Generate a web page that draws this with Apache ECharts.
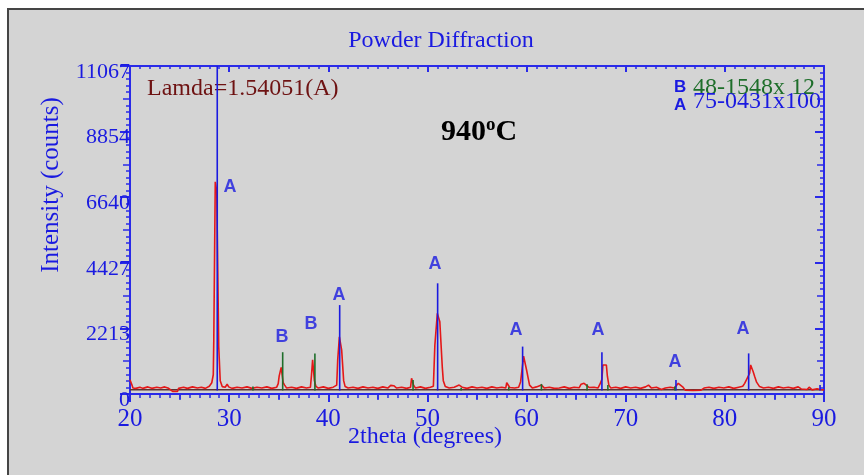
<!DOCTYPE html>
<html>
<head>
<meta charset="utf-8">
<script src="https://cdn.jsdelivr.net/npm/echarts@6/dist/echarts.min.js"></script>
<style>html,body{margin:0;padding:0;background:#fff}#c{width:864px;height:475px}</style>
</head>
<body>
<div id="c"></div>
<script>
// ---- data ----
const xTicks = [20, 30, 40, 50, 60, 70, 80, 90];
const yTickLabels = ['0', '2213', '4427', '6640', '8854', '11067'];
const yMax = 11067;

// measured pattern (2theta, counts)
const measuredX = [20.0,20.1,20.2,20.3,20.6,21.0,21.3,21.8,22.2,22.7,23.1,23.5,23.9,24.3,24.8,24.9,25.4,25.8,26.3,26.8,27.2,27.6,28.0,28.25,28.4,28.45,28.55,28.6,28.72,28.75,28.9,28.95,29.05,29.1,29.3,29.6,29.8,29.95,
30.3,30.8,31.3,31.8,32.3,32.8,33.3,33.8,34.3,34.8,34.95,35.05,35.2,35.25,35.4,35.45,35.6,35.8,
36.3,36.8,37.3,37.8,38.2,38.3,38.42,38.55,38.6,38.75,39.0,39.5,40.0,40.5,40.85,40.95,41.05,41.12,41.3,41.35,41.48,41.55,41.7,42.0,
42.5,43.0,43.5,44.0,44.5,45.0,45.5,46.0,46.3,46.6,46.9,47.4,47.9,48.3,48.4,48.55,48.6,48.8,
49.3,49.8,50.3,50.6,50.75,50.95,51.0,51.2,51.25,51.4,51.5,51.6,51.8,52.2,
52.7,53.2,53.5,54.0,54.5,55.0,55.5,56.0,56.5,57.0,57.5,57.9,58.0,58.2,58.3,58.8,59.2,59.4,59.6,59.7,59.9,60.0,60.15,60.3,60.6,
61.0,61.5,61.8,62.3,62.8,63.3,63.8,64.3,64.8,65.3,65.5,65.8,66.0,66.3,66.8,67.2,67.4,67.6,67.7,68.05,68.15,68.3,68.5,
69.0,69.5,70.0,70.5,71.0,71.5,72.0,72.3,72.6,73.1,73.6,74.0,74.5,74.9,75.1,75.3,75.5,75.8,76.0,76.8,77.6,77.9,78.4,78.9,79.4,79.9,80.4,80.9,81.4,81.8,82.0,82.2,82.5,82.6,82.75,82.85,83.0,83.2,83.5,83.9,
84.4,84.9,85.4,85.9,86.4,86.9,87.4,87.7,88.3,88.5,88.8,89.3,89.6,90.0];
const measuredY = [480,420,300,200,190,230,190,240,190,230,200,240,190,90,90,190,230,190,240,200,230,190,260,380,650,1790,1790,7160,7160,6830,6830,1600,1600,450,250,230,330,240,
190,230,200,240,190,230,200,240,190,230,350,610,610,900,900,380,300,200,
230,190,240,200,230,610,1150,1150,450,260,200,240,190,230,300,1150,1150,1930,1930,1480,1480,450,250,200,
230,190,240,200,230,190,240,200,290,280,200,230,190,230,530,530,300,200,
240,190,230,260,1650,1650,2720,2720,2440,2440,900,450,250,200,
230,300,230,190,240,200,230,190,240,200,230,200,380,380,220,200,230,415,415,1280,1280,810,810,300,200,
240,300,200,230,190,200,240,190,230,210,330,360,300,220,230,200,330,500,980,980,600,300,200,
230,190,240,200,230,190,240,300,200,230,150,200,230,200,280,360,330,220,130,120,130,200,230,190,230,200,240,190,230,260,360,420,700,980,980,760,600,400,250,200,
230,190,240,200,230,190,240,170,150,230,140,180,150,140];

// background line
const backgroundX = [20, 90];
const backgroundY = [140, 140];

// reference sticks A: 75-0431
const refAX = [28.8, 41.15, 51.03, 59.6, 67.6, 75.07, 82.4, 89.6];
const refAY = [11067, 3000, 3735, 1600, 1410, 470, 1370, 300];
// reference sticks B: 48-1548
const refBX = [32.4, 35.4, 38.65, 48.55, 53.4, 58.2, 61.5, 66.1, 68.2, 74.95];
const refBY = [250, 1410, 1370, 470, 210, 230, 340, 330, 300, 250];
const stickBase = 120;

// peak labels
const peakLabelText = ['A', 'B', 'B', 'A', 'A', 'A', 'A', 'A', 'A'];
const peakLabelX = [30.09, 35.33, 38.26, 41.08, 50.76, 58.94, 67.21, 74.97, 81.83];
const peakLabelY = [6984, 1923, 2362, 3340, 4386, 2159, 2159, 1080, 2193];

// ---- chart ----
const BLUE = '#1a1ae0';
const AXIS = '#2a2ae8';
const RED = '#e41818';
const GREEN = '#1e6e2a';
const SERIF = '"Liberation Serif", "Times New Roman", serif';

const measured = measuredX.map((x, i) => [x, measuredY[i]]);
const background = backgroundX.map((x, i) => [x, backgroundY[i]]);
const sticksA = refAX.map((x, i) => [x, refAY[i]]);
const sticksB = refBX.map((x, i) => [x, refBY[i]]);
const peakLabels = peakLabelX.map((x, i) => ({ value: [x, peakLabelY[i]], name: peakLabelText[i] }));

function stickSeries(name, data, color) {
  return {
    name, type: 'custom', data, z: 3, silent: true,
    renderItem: function (params, api) {
      const p0 = api.coord([api.value(0), stickBase]);
      const p1 = api.coord([api.value(0), api.value(1)]);
      return { type: 'line', shape: { x1: p0[0], y1: p0[1], x2: p1[0], y2: p1[1] },
        style: { stroke: color, lineWidth: 1.6 } };
    },
    encode: { x: 0, y: 1 }
  };
}

const xMin = xTicks[0], xMax = xTicks[xTicks.length - 1];
const yInterval = yMax / (yTickLabels.length - 1);

function xAx(extra) {
  return Object.assign({
    type: 'value', min: xMin, max: xMax, interval: 10,
    axisLine: { show: true, onZero: false, lineStyle: { color: AXIS, width: 2 } },
    splitLine: { show: false },
    axisLabel: { show: false }
  }, extra);
}
function yAx(extra) {
  return Object.assign({
    type: 'value', min: 0, max: yMax, interval: yInterval,
    axisLine: { show: true, onZero: false, lineStyle: { color: AXIS, width: 2 } },
    splitLine: { show: false },
    axisLabel: { show: false }
  }, extra);
}

const chart = echarts.init(document.getElementById('c'), null, { renderer: 'canvas' });
chart.setOption({
  backgroundColor: '#ffffff',
  animation: false,
  grid: { left: 130, right: 40, top: 66, bottom: 81, containLabel: false },
  graphic: [
    { type: 'rect', z: -10, shape: { x: 8, y: 9, width: 900, height: 500 },
      style: { fill: '#d4d4d4', stroke: '#454545', lineWidth: 2 } },
    { type: 'text', x: 441, y: 41, style: { text: 'Powder Diffraction', fill: BLUE, font: '24px ' + SERIF, align: 'center', verticalAlign: 'middle' } },
    { type: 'text', x: 425, y: 437, style: { text: '2theta (degrees)', fill: BLUE, font: '24px ' + SERIF, align: 'center', verticalAlign: 'middle' } },
    { type: 'text', x: 51, y: 185, rotation: Math.PI / 2, style: { text: 'Intensity (counts)', fill: BLUE, font: '25px ' + SERIF, align: 'center', verticalAlign: 'middle' } },
    { type: 'text', x: 147, y: 89, style: { text: 'Lamda=1.54051(A)', fill: '#6e1212', font: '24px ' + SERIF, verticalAlign: 'middle' } },
    { type: 'text', x: 441, y: 132, style: {
        text: '{n|940}{s|o}{n|C}', verticalAlign: 'middle',
        rich: {
          n: { fontSize: 30, fontWeight: 'bold', fontFamily: SERIF, fill: '#000', color: '#000', lineHeight: 32 },
          s: { fontSize: 19, fontWeight: 'bold', fontFamily: SERIF, fill: '#000', color: '#000', verticalAlign: 'top', lineHeight: 14 }
        } } },
    { type: 'text', x: 674, y: 87, style: { text: 'B', fill: BLUE, font: 'bold 17px "Liberation Sans", Arial, sans-serif', verticalAlign: 'middle' } },
    { type: 'text', x: 693, y: 88, style: { text: '48-1548x 12', fill: GREEN, font: '24px ' + SERIF, verticalAlign: 'middle' } },
    { type: 'text', x: 674, y: 105, style: { text: 'A', fill: BLUE, font: 'bold 17px "Liberation Sans", Arial, sans-serif', verticalAlign: 'middle' } },
    { type: 'text', x: 693, y: 102, style: { text: '75-0431x100', fill: BLUE, font: '24px ' + SERIF, verticalAlign: 'middle' } }
  ],
  xAxis: [
    xAx({ position: 'bottom',
      axisTick: { show: true, inside: false, length: 8, lineStyle: { color: AXIS, width: 2 } },
      minorTick: { show: true, splitNumber: 10, length: 4, lineStyle: { color: AXIS, width: 1.5 } },
      axisLabel: { show: true, color: BLUE, fontFamily: SERIF, fontSize: 25, margin: 13,
        formatter: v => String(xTicks[Math.round((v - xMin) / 10)]) } }),
    xAx({ position: 'bottom', interval: 5, axisLine: { show: false },
      axisTick: { show: true, inside: false, length: 6, lineStyle: { color: AXIS, width: 1.5 } } }),
    xAx({ position: 'top',
      axisTick: { show: true, inside: true, length: 6, lineStyle: { color: AXIS, width: 2 } },
      minorTick: { show: true, splitNumber: 10, length: 3, lineStyle: { color: AXIS, width: 1.5 } } }),
    xAx({ position: 'top', interval: 5, axisLine: { show: false },
      axisTick: { show: true, inside: true, length: 5, lineStyle: { color: AXIS, width: 1.5 } } })
  ],
  yAxis: [
    yAx({ position: 'left',
      axisTick: { show: true, inside: false, length: 10, lineStyle: { color: AXIS, width: 2 } },
      minorTick: { show: true, splitNumber: 10, length: 4, lineStyle: { color: AXIS, width: 1.5 } },
      axisLabel: { show: true, color: BLUE, fontFamily: SERIF, fontSize: 22, margin: 0,
        verticalAlign: 'top', lineHeight: 12,
        formatter: v => yTickLabels[Math.round(v / yInterval)] } }),
    yAx({ position: 'left', interval: yInterval / 2, axisLine: { show: false },
      axisTick: { show: true, inside: false, length: 7, lineStyle: { color: AXIS, width: 1.5 } } }),
    yAx({ position: 'right',
      axisTick: { show: true, inside: true, length: 9, lineStyle: { color: AXIS, width: 2 } },
      minorTick: { show: true, splitNumber: 10, length: 4, lineStyle: { color: AXIS, width: 1.5 } } }),
    yAx({ position: 'right', interval: yInterval / 2, axisLine: { show: false },
      axisTick: { show: true, inside: true, length: 7, lineStyle: { color: AXIS, width: 1.5 } } })
  ],
  series: [
    { name: 'background', type: 'line', data: background, showSymbol: false, z: 1,
      lineStyle: { color: '#5a3434', width: 1.5 } },
    { name: 'measured', type: 'line', data: measured, showSymbol: false, z: 2,
      lineStyle: { color: RED, width: 1.6 } },
    stickSeries('75-0431', sticksA, '#1a1ae0'),
    stickSeries('48-1548', sticksB, GREEN),
    { name: 'peakLabels', type: 'scatter', data: peakLabels, symbolSize: 0, z: 5, silent: true,
      label: { show: true, position: 'inside', formatter: p => p.name, color: BLUE,
        fontFamily: '"Liberation Sans", Arial, sans-serif', fontWeight: 'bold', fontSize: 18 } }
  ]
});
</script>
</body>
</html>
